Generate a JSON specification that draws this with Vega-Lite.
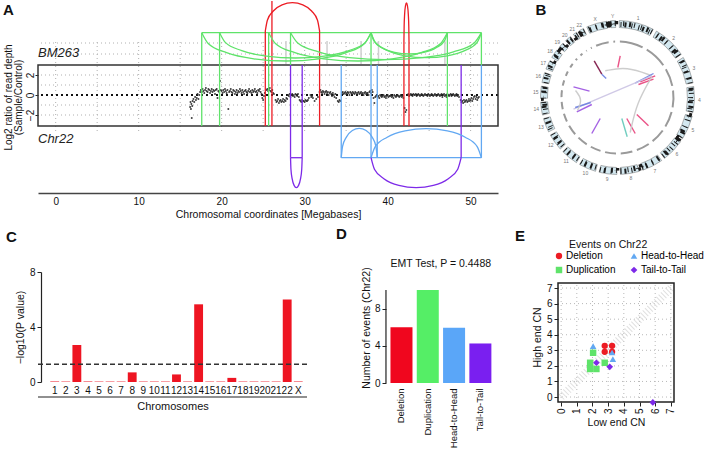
{
"$schema": "https://vega.github.io/schema/vega-lite/v6.json",
"padding": {"left": 3, "right": 0, "top": 0, "bottom": 0},
"config": {
  "font": "Liberation Sans",
  "view": {"stroke": null},
  "axis": {"grid": false, "labelColor": "#111", "titleColor": "#111", "titleFontWeight": "normal", "domainColor": "#222", "tickColor": "#222", "labelFontSize": 10, "titleFontSize": 10.5},
  "title": {"fontSize": 15, "fontWeight": "bold", "anchor": "start", "frame": "group", "color": "#111"}
},
"datasets": {
  "depth": [
{"x":16.2,"y":-1.2},{"x":16.25,"y":-0.7},{"x":16.3,"y":-1.4},{"x":16.35,"y":-0.9},{"x":16.4,"y":-2.3},{"x":16.45,"y":-1.1},{"x":16.5,"y":-0.6},{"x":16.6,"y":-0.4},{"x":16.7,"y":-0.7},{"x":16.8,"y":-0.2},{"x":16.9,"y":-0.5},{"x":17.0,"y":-0.3},{"x":17.1,"y":0.1},{"x":17.2,"y":-0.4},{"x":17.3,"y":0.0},{"x":17.4,"y":0.3},
{"x":17.5,"y":0.5},{"x":17.6,"y":0.3},{"x":17.7,"y":0.6},{"x":17.8,"y":0.4},{"x":17.9,"y":0.2},{"x":18.0,"y":0.5},{"x":18.1,"y":0.7},{"x":18.2,"y":0.4},{"x":18.3,"y":0.3},{"x":18.4,"y":0.6},{"x":18.5,"y":0.5},{"x":18.6,"y":0.2},{"x":18.7,"y":0.4},{"x":18.8,"y":0.6},{"x":18.9,"y":0.3},{"x":19.0,"y":0.5},{"x":19.1,"y":0.4},{"x":19.2,"y":0.1},{"x":19.3,"y":0.5},{"x":19.4,"y":0.6},{"x":19.5,"y":-0.3},{"x":19.6,"y":0.4},{"x":19.7,"y":0.3},{"x":19.8,"y":1.4},{"x":19.9,"y":0.5},{"x":20.0,"y":0.4},{"x":20.1,"y":0.2},{"x":20.2,"y":0.5},{"x":20.3,"y":0.3},{"x":20.4,"y":0.6},{"x":20.5,"y":0.4},{"x":20.6,"y":0.2},{"x":20.7,"y":0.5},{"x":20.8,"y":-1.4},{"x":20.9,"y":0.3},{"x":21.0,"y":0.4},{"x":21.1,"y":0.6},{"x":21.2,"y":0.3},{"x":21.3,"y":0.2},{"x":21.4,"y":0.5},{"x":21.5,"y":0.4},{"x":21.6,"y":0.1},{"x":21.7,"y":0.3},{"x":21.8,"y":0.5},{"x":21.9,"y":0.2},{"x":22.0,"y":0.4},{"x":22.1,"y":0.3},{"x":22.2,"y":0.6},{"x":22.3,"y":0.4},{"x":22.4,"y":0.2},{"x":22.5,"y":0.5},{"x":22.6,"y":0.3},{"x":22.7,"y":0.1},{"x":22.8,"y":0.4},{"x":22.9,"y":0.5},{"x":23.0,"y":0.3},{"x":23.1,"y":0.2},{"x":23.2,"y":0.4},{"x":23.3,"y":0.6},{"x":23.4,"y":0.3},{"x":23.5,"y":0.4},{"x":23.6,"y":0.2},{"x":23.7,"y":0.5},{"x":23.8,"y":0.3},{"x":23.9,"y":0.4},{"x":24.0,"y":0.6},{"x":24.1,"y":0.3},{"x":24.2,"y":0.4},{"x":24.3,"y":0.2},{"x":24.4,"y":0.5},{"x":24.5,"y":0.4},{"x":24.6,"y":0.6},{"x":24.7,"y":0.3},{"x":24.8,"y":0.1},{"x":24.9,"y":-0.3},{"x":25.0,"y":-0.5},{"x":25.1,"y":-0.1},{"x":25.2,"y":0.2},
{"x":25.4,"y":0.5},{"x":25.5,"y":0.6},{"x":25.6,"y":0.4},{"x":25.7,"y":0.5},{"x":25.8,"y":0.7},{"x":25.9,"y":0.4},{"x":26.0,"y":0.3},{"x":26.1,"y":0.5},{"x":26.2,"y":0.2},{"x":26.3,"y":0.1},
{"x":26.5,"y":-0.5},{"x":26.6,"y":-0.7},{"x":26.7,"y":-0.6},{"x":26.8,"y":-0.4},{"x":26.9,"y":-0.8},{"x":27.0,"y":-0.6},{"x":27.1,"y":-0.5},{"x":27.2,"y":-0.7},{"x":27.3,"y":-0.6},{"x":27.4,"y":-0.4},{"x":27.5,"y":-0.7},{"x":27.6,"y":-0.5},{"x":27.7,"y":-0.6},{"x":27.8,"y":-0.3},{"x":27.9,"y":-0.4},
{"x":28.0,"y":0.0},{"x":28.1,"y":-0.1},{"x":28.2,"y":0.1},{"x":28.3,"y":-0.2},{"x":28.4,"y":0.0},{"x":28.5,"y":0.1},{"x":28.6,"y":-0.1},{"x":28.7,"y":0.0},{"x":28.8,"y":-0.2},{"x":28.9,"y":0.1},{"x":29.0,"y":0.0},{"x":29.1,"y":-0.1},{"x":29.2,"y":0.1},{"x":29.3,"y":-0.2},
{"x":29.4,"y":-0.5},{"x":29.5,"y":-0.6},{"x":29.6,"y":-0.7},{"x":29.7,"y":-0.5},{"x":29.8,"y":-0.6},{"x":29.9,"y":-0.6},{"x":30.0,"y":-0.7},{"x":30.1,"y":-0.5},{"x":30.2,"y":-0.6},{"x":30.3,"y":-0.6},{"x":30.4,"y":-0.5},{"x":30.5,"y":-0.3},{"x":30.7,"y":0.0},{"x":30.8,"y":-0.2},{"x":30.9,"y":-0.1},{"x":31.0,"y":-0.3},{"x":31.2,"y":-0.6},{"x":31.4,"y":-0.4},{"x":31.6,"y":-0.2},
{"x":31.8,"y":0.3},{"x":31.9,"y":0.5},{"x":32.0,"y":0.3},{"x":32.1,"y":0.2},{"x":32.2,"y":0.4},{"x":32.3,"y":0.3},{"x":32.4,"y":0.1},{"x":32.5,"y":0.3},{"x":32.6,"y":0.4},{"x":32.7,"y":0.2},{"x":32.8,"y":0.3},{"x":32.9,"y":0.0},{"x":33.0,"y":0.2},{"x":33.1,"y":0.3},{"x":33.2,"y":0.1},{"x":33.3,"y":-0.1},{"x":33.4,"y":0.2},{"x":33.5,"y":0.0},{"x":33.6,"y":-0.2},{"x":33.7,"y":0.1},{"x":33.8,"y":-0.3},
{"x":34.0,"y":-0.6},{"x":34.1,"y":-0.7},{"x":34.2,"y":-0.5},{"x":34.3,"y":-0.6},
{"x":34.5,"y":0.2},{"x":34.6,"y":0.3},{"x":34.7,"y":0.1},{"x":34.8,"y":0.2},{"x":34.9,"y":0.3},{"x":35.0,"y":0.1},{"x":35.1,"y":0.2},{"x":35.2,"y":0.3},{"x":35.3,"y":0.2},{"x":35.4,"y":0.0},{"x":35.5,"y":0.3},{"x":35.6,"y":0.2},{"x":35.7,"y":0.1},{"x":35.8,"y":0.3},{"x":35.9,"y":0.2},{"x":36.0,"y":0.1},{"x":36.1,"y":0.3},{"x":36.2,"y":0.2},{"x":36.3,"y":0.0},{"x":36.4,"y":0.2},{"x":36.5,"y":0.3},{"x":36.6,"y":0.1},{"x":36.7,"y":0.2},{"x":36.8,"y":0.3},{"x":36.9,"y":0.1},{"x":37.0,"y":0.2},{"x":37.1,"y":0.0},{"x":37.2,"y":0.2},{"x":37.3,"y":0.3},{"x":37.4,"y":0.1},{"x":37.5,"y":0.2},{"x":37.6,"y":0.2},{"x":37.7,"y":0.0},{"x":37.8,"y":0.3},{"x":37.9,"y":0.4},{"x":38.0,"y":0.2},{"x":38.1,"y":0.5},{"x":38.2,"y":0.3},{"x":38.3,"y":-0.3},{"x":38.4,"y":-0.8},
{"x":38.5,"y":-0.2},{"x":38.6,"y":-0.1},{"x":38.7,"y":0.0},{"x":38.8,"y":-0.2},{"x":38.9,"y":-0.1},{"x":39.0,"y":-0.3},{"x":39.1,"y":0.0},{"x":39.2,"y":-0.1},{"x":39.3,"y":-0.2},{"x":39.4,"y":-0.1},{"x":39.5,"y":0.0},{"x":39.6,"y":-0.2},{"x":39.7,"y":-0.1},{"x":39.8,"y":-0.3},{"x":39.9,"y":-0.1},{"x":40.0,"y":0.0},{"x":40.1,"y":-0.2},{"x":40.2,"y":-0.1},{"x":40.3,"y":-0.1},{"x":40.4,"y":0.0},{"x":40.5,"y":-0.2},{"x":40.6,"y":-0.1},{"x":40.7,"y":-0.3},{"x":40.8,"y":0.0},{"x":40.9,"y":-0.1},{"x":41.0,"y":-0.2},{"x":41.1,"y":-0.1},{"x":41.2,"y":0.0},{"x":41.3,"y":-0.1},{"x":41.4,"y":-0.2},{"x":41.5,"y":-0.1},{"x":41.6,"y":0.0},{"x":41.7,"y":-0.2},{"x":41.8,"y":-0.1},{"x":41.9,"y":-0.3},
{"x":42.05,"y":-1.3},{"x":42.15,"y":-1.7},{"x":42.25,"y":-1.5},
{"x":42.4,"y":0.0},{"x":42.5,"y":0.1},{"x":42.6,"y":-0.1},{"x":42.7,"y":0.0},{"x":42.8,"y":0.1},{"x":42.9,"y":0.0},{"x":43.0,"y":-0.1},{"x":43.1,"y":0.1},{"x":43.2,"y":0.0},{"x":43.3,"y":0.0},{"x":43.4,"y":0.1},{"x":43.5,"y":-0.1},{"x":43.6,"y":0.0},{"x":43.7,"y":0.1},{"x":43.8,"y":0.0},{"x":43.9,"y":-0.1},{"x":44.0,"y":0.0},{"x":44.1,"y":0.1},{"x":44.2,"y":0.0},{"x":44.3,"y":-0.1},{"x":44.4,"y":0.0},{"x":44.5,"y":0.1},{"x":44.6,"y":0.0},{"x":44.7,"y":0.0},{"x":44.8,"y":-0.1},{"x":44.9,"y":0.1},{"x":45.0,"y":0.0},{"x":45.1,"y":-0.1},{"x":45.2,"y":0.0},{"x":45.3,"y":0.1},{"x":45.4,"y":0.0},{"x":45.5,"y":-0.1},{"x":45.6,"y":0.0},{"x":45.7,"y":0.1},{"x":45.8,"y":0.0},{"x":45.9,"y":-0.1},{"x":46.0,"y":0.0},{"x":46.1,"y":0.1},{"x":46.2,"y":0.0},{"x":46.3,"y":-0.1},{"x":46.4,"y":0.0},{"x":46.5,"y":0.1},{"x":46.6,"y":-0.2},{"x":46.7,"y":0.0},{"x":46.8,"y":0.1},{"x":46.9,"y":-0.1},{"x":47.0,"y":0.0},{"x":47.1,"y":-0.2},{"x":47.2,"y":0.1},{"x":47.3,"y":0.0},{"x":47.4,"y":-0.1},{"x":47.5,"y":0.0},{"x":47.6,"y":0.1},{"x":47.7,"y":-0.1},{"x":47.8,"y":0.0},{"x":47.9,"y":0.1},{"x":48.0,"y":0.0},{"x":48.1,"y":-0.1},{"x":48.2,"y":0.0},{"x":48.3,"y":0.1},{"x":48.4,"y":-0.1},{"x":48.5,"y":0.0},{"x":48.6,"y":-0.2},
{"x":48.8,"y":-0.5},{"x":48.9,"y":-0.7},{"x":49.0,"y":-0.6},{"x":49.1,"y":-0.8},{"x":49.2,"y":-0.5},{"x":49.3,"y":-0.7},{"x":49.4,"y":-0.6},{"x":49.5,"y":-0.5},{"x":49.6,"y":-0.7},{"x":49.7,"y":-0.6},{"x":49.8,"y":-0.4},{"x":49.9,"y":-0.6},{"x":50.0,"y":-0.5},{"x":50.1,"y":-0.3},{"x":50.2,"y":-0.6},{"x":50.3,"y":-0.4},{"x":50.4,"y":-0.2},{"x":50.5,"y":-0.1},{"x":50.6,"y":-0.4},{"x":50.7,"y":-0.2},{"x":50.8,"y":-0.5},{"x":50.9,"y":-0.3},{"x":51.0,"y":-0.2}
  ],
  "segs": [
{"c":"dup","x":17.6,"y":-3.1,"x2":17.6,"y2":6.23},
{"c":"dup","x":19.75,"y":-3.1,"x2":19.75,"y2":6.23},
{"c":"dup","x":25.66,"y":-3.1,"x2":25.66,"y2":6.23},
{"c":"dup","x":28.3,"y":3.0,"x2":28.3,"y2":6.23},
{"c":"dup","x":38.0,"y":3.0,"x2":38.0,"y2":6.23},
{"c":"dup","x":47.2,"y":-3.1,"x2":47.2,"y2":6.23},
{"c":"dup","x":51.3,"y":3.0,"x2":51.3,"y2":6.23},
{"c":"dup","x":17.6,"y":6.23,"x2":51.3,"y2":6.23},
{"c":"del","x":25.26,"y":-3.1,"x2":25.26,"y2":6.4},
{"c":"del","x":31.8,"y":-3.1,"x2":31.8,"y2":6.4},
{"c":"del","x":26.06,"y":-3.1,"x2":26.06,"y2":9.4},
{"c":"del","x":41.965,"y":-3.1,"x2":41.965,"y2":5.4},
{"c":"del","x":42.575,"y":-3.1,"x2":42.575,"y2":5.4},
{"c":"h2h","x":34.41,"y":3.0,"x2":34.41,"y2":-6.27},
{"c":"h2h","x":38.0,"y":3.0,"x2":38.0,"y2":-6.27},
{"c":"h2h","x":38.75,"y":3.0,"x2":38.75,"y2":-6.27},
{"c":"h2h","x":51.3,"y":3.0,"x2":51.3,"y2":-6.27},
{"c":"h2h","x":34.41,"y":-6.27,"x2":51.3,"y2":-6.27},
{"c":"t2t","x":28.3,"y":3.0,"x2":28.3,"y2":-6.27},
{"c":"t2t","x":29.705,"y":3.0,"x2":29.705,"y2":-6.27},
{"c":"t2t","x":28.3,"y":-6.27,"x2":29.705,"y2":-6.27},
{"c":"t2t","x":48.86,"y":3.0,"x2":48.86,"y2":-6.27}
  ],
  "arcs": [
{"id":"g1","c":"dup","o":1,"x":17.6,"y":6.23},{"id":"g1","c":"dup","o":2,"x":18.38,"y":5.15},{"id":"g1","c":"dup","o":3,"x":20.59,"y":4.23},{"id":"g1","c":"dup","o":4,"x":23.89,"y":3.62},{"id":"g1","c":"dup","o":5,"x":27.8,"y":3.4},{"id":"g1","c":"dup","o":6,"x":31.71,"y":3.62},{"id":"g1","c":"dup","o":7,"x":35.01,"y":4.23},{"id":"g1","c":"dup","o":8,"x":37.22,"y":5.15},{"id":"g1","c":"dup","o":9,"x":38.0,"y":6.23},
{"id":"g2","c":"dup","o":1,"x":19.75,"y":6.23},{"id":"g2","c":"dup","o":2,"x":20.44,"y":5.26},{"id":"g2","c":"dup","o":3,"x":22.42,"y":4.44},{"id":"g2","c":"dup","o":4,"x":25.38,"y":3.89},{"id":"g2","c":"dup","o":5,"x":28.88,"y":3.7},{"id":"g2","c":"dup","o":6,"x":32.37,"y":3.89},{"id":"g2","c":"dup","o":7,"x":35.33,"y":4.44},{"id":"g2","c":"dup","o":8,"x":37.31,"y":5.26},{"id":"g2","c":"dup","o":9,"x":38.0,"y":6.23},
{"id":"g3","c":"dup","o":1,"x":25.66,"y":6.23},{"id":"g3","c":"dup","o":2,"x":26.48,"y":5.15},{"id":"g3","c":"dup","o":3,"x":28.82,"y":4.23},{"id":"g3","c":"dup","o":4,"x":32.31,"y":3.62},{"id":"g3","c":"dup","o":5,"x":36.43,"y":3.4},{"id":"g3","c":"dup","o":6,"x":40.55,"y":3.62},{"id":"g3","c":"dup","o":7,"x":44.04,"y":4.23},{"id":"g3","c":"dup","o":8,"x":46.38,"y":5.15},{"id":"g3","c":"dup","o":9,"x":47.2,"y":6.23},
{"id":"g4","c":"dup","o":1,"x":28.3,"y":6.23},{"id":"g4","c":"dup","o":2,"x":29.17,"y":5.2},{"id":"g4","c":"dup","o":3,"x":31.67,"y":4.32},{"id":"g4","c":"dup","o":4,"x":35.4,"y":3.74},{"id":"g4","c":"dup","o":5,"x":39.8,"y":3.53},{"id":"g4","c":"dup","o":6,"x":44.2,"y":3.74},{"id":"g4","c":"dup","o":7,"x":47.93,"y":4.32},{"id":"g4","c":"dup","o":8,"x":50.43,"y":5.2},{"id":"g4","c":"dup","o":9,"x":51.3,"y":6.23},
{"id":"g5","c":"dup","o":1,"x":38.0,"y":6.23},{"id":"g5","c":"dup","o":2,"x":38.35,"y":5.41},{"id":"g5","c":"dup","o":3,"x":39.35,"y":4.72},{"id":"g5","c":"dup","o":4,"x":40.84,"y":4.26},{"id":"g5","c":"dup","o":5,"x":42.6,"y":4.1},{"id":"g5","c":"dup","o":6,"x":44.36,"y":4.26},{"id":"g5","c":"dup","o":7,"x":45.85,"y":4.72},{"id":"g5","c":"dup","o":8,"x":46.85,"y":5.41},{"id":"g5","c":"dup","o":9,"x":47.2,"y":6.23},
{"id":"g6","c":"dup","o":1,"x":38.0,"y":6.23},{"id":"g6","c":"dup","o":2,"x":38.51,"y":5.27},{"id":"g6","c":"dup","o":3,"x":39.95,"y":4.46},{"id":"g6","c":"dup","o":4,"x":42.1,"y":3.92},{"id":"g6","c":"dup","o":5,"x":44.65,"y":3.73},{"id":"g6","c":"dup","o":6,"x":47.2,"y":3.92},{"id":"g6","c":"dup","o":7,"x":49.35,"y":4.46},{"id":"g6","c":"dup","o":8,"x":50.79,"y":5.27},{"id":"g6","c":"dup","o":9,"x":51.3,"y":6.23},
{"id":"r1","c":"del","o":1,"x":25.26,"y":6.4},{"id":"r1","c":"del","o":2,"x":25.51,"y":7.48},{"id":"r1","c":"del","o":3,"x":26.22,"y":8.4},{"id":"r1","c":"del","o":4,"x":27.28,"y":9.01},{"id":"r1","c":"del","o":5,"x":28.53,"y":9.23},{"id":"r1","c":"del","o":6,"x":29.78,"y":9.01},{"id":"r1","c":"del","o":7,"x":30.84,"y":8.4},{"id":"r1","c":"del","o":8,"x":31.55,"y":7.48},{"id":"r1","c":"del","o":9,"x":31.8,"y":6.4},
{"id":"r2","c":"del","o":1,"x":41.965,"y":5.4},{"id":"r2","c":"del","o":2,"x":41.99,"y":6.86},{"id":"r2","c":"del","o":3,"x":42.05,"y":8.09},{"id":"r2","c":"del","o":4,"x":42.15,"y":8.91},{"id":"r2","c":"del","o":5,"x":42.27,"y":9.2},{"id":"r2","c":"del","o":6,"x":42.39,"y":8.91},{"id":"r2","c":"del","o":7,"x":42.49,"y":8.09},{"id":"r2","c":"del","o":8,"x":42.55,"y":6.86},{"id":"r2","c":"del","o":9,"x":42.575,"y":5.4},
{"id":"b1","c":"h2h","o":1,"x":34.41,"y":-6.27},{"id":"b1","c":"h2h","o":2,"x":34.57,"y":-5.14},{"id":"b1","c":"h2h","o":3,"x":35.05,"y":-4.19},{"id":"b1","c":"h2h","o":4,"x":35.75,"y":-3.55},{"id":"b1","c":"h2h","o":5,"x":36.58,"y":-3.33},{"id":"b1","c":"h2h","o":6,"x":37.41,"y":-3.55},{"id":"b1","c":"h2h","o":7,"x":38.11,"y":-4.19},{"id":"b1","c":"h2h","o":8,"x":38.59,"y":-5.14},{"id":"b1","c":"h2h","o":9,"x":38.75,"y":-6.27},
{"id":"b2","c":"h2h","o":1,"x":38.0,"y":-6.27},{"id":"b2","c":"h2h","o":2,"x":38.51,"y":-5.16},{"id":"b2","c":"h2h","o":3,"x":39.95,"y":-4.22},{"id":"b2","c":"h2h","o":4,"x":42.1,"y":-3.59},{"id":"b2","c":"h2h","o":5,"x":44.65,"y":-3.37},{"id":"b2","c":"h2h","o":6,"x":47.2,"y":-3.59},{"id":"b2","c":"h2h","o":7,"x":49.35,"y":-4.22},{"id":"b2","c":"h2h","o":8,"x":50.79,"y":-5.16},{"id":"b2","c":"h2h","o":9,"x":51.3,"y":-6.27},
{"id":"p1","c":"t2t","o":1,"x":28.3,"y":-6.27},{"id":"p1","c":"t2t","o":2,"x":28.35,"y":-7.42},{"id":"p1","c":"t2t","o":3,"x":28.5,"y":-8.39},{"id":"p1","c":"t2t","o":4,"x":28.73,"y":-9.04},{"id":"p1","c":"t2t","o":5,"x":29.0,"y":-9.27},{"id":"p1","c":"t2t","o":6,"x":29.27,"y":-9.04},{"id":"p1","c":"t2t","o":7,"x":29.5,"y":-8.39},{"id":"p1","c":"t2t","o":8,"x":29.65,"y":-7.42},{"id":"p1","c":"t2t","o":9,"x":29.705,"y":-6.27},
{"id":"p2","c":"t2t","o":1,"x":38.0,"y":-6.27},{"id":"p2","c":"t2t","o":2,"x":38.41,"y":-7.42},{"id":"p2","c":"t2t","o":3,"x":39.59,"y":-8.39},{"id":"p2","c":"t2t","o":4,"x":41.35,"y":-9.04},{"id":"p2","c":"t2t","o":5,"x":43.43,"y":-9.27},{"id":"p2","c":"t2t","o":6,"x":45.51,"y":-9.04},{"id":"p2","c":"t2t","o":7,"x":47.27,"y":-8.39},{"id":"p2","c":"t2t","o":8,"x":48.45,"y":-7.42},{"id":"p2","c":"t2t","o":9,"x":48.86,"y":-6.27}
  ],
  "chroms": [
{"i":1,"chr":"1","len":249},{"i":2,"chr":"2","len":242},{"i":3,"chr":"3","len":198},{"i":4,"chr":"4","len":190},{"i":5,"chr":"5","len":181},{"i":6,"chr":"6","len":171},{"i":7,"chr":"7","len":159},{"i":8,"chr":"8","len":145},{"i":9,"chr":"9","len":138},{"i":10,"chr":"10","len":134},{"i":11,"chr":"11","len":135},{"i":12,"chr":"12","len":133},{"i":13,"chr":"13","len":114},{"i":14,"chr":"14","len":107},{"i":15,"chr":"15","len":102},{"i":16,"chr":"16","len":90},{"i":17,"chr":"17","len":83},{"i":18,"chr":"18","len":80},{"i":19,"chr":"19","len":59},{"i":20,"chr":"20","len":64},{"i":21,"chr":"21","len":47},{"i":22,"chr":"22","len":51},{"i":23,"chr":"X","len":156},{"i":24,"chr":"Y","len":57}
  ],
  "chords": [
{"id":"c1","t":"dark","o":1,"x":-23.3,"y":36.7},{"id":"c1","t":"dark","o":2,"x":-15.7,"y":23.3},
{"id":"c2","t":"h2h","o":1,"x":-15.7,"y":23.3},{"id":"c2","t":"h2h","o":2,"x":-11.3,"y":19},
{"id":"c3","t":"del","o":1,"x":2.7,"y":41.7},{"id":"c3","t":"del","o":2,"x":0.3,"y":30},
{"id":"c4","t":"link","o":1,"x":-12.3,"y":26.7},{"id":"c4","t":"link","o":2,"x":9.3,"y":31},{"id":"c4","t":"link","o":3,"x":34.3,"y":21.7},
{"id":"c5","t":"del","o":1,"x":22.7,"y":15.7},{"id":"c5","t":"del","o":2,"x":37.7,"y":21.7},
{"id":"c6","t":"del","o":1,"x":21,"y":13},{"id":"c6","t":"del","o":2,"x":36,"y":18.3},
{"id":"c7","t":"h2h","o":1,"x":17.7,"y":14.3},{"id":"c7","t":"h2h","o":2,"x":36,"y":24},
{"id":"c8","t":"lav","o":1,"x":-44,"y":-11.7},{"id":"c8","t":"lav","o":2,"x":34.3,"y":21.7},
{"id":"c9","t":"t2t","o":1,"x":-44,"y":10.7},{"id":"c9","t":"t2t","o":2,"x":-28,"y":6.3},
{"id":"c10","t":"t2t","o":1,"x":-40.7,"y":-14.3},{"id":"c10","t":"t2t","o":2,"x":-25.7,"y":-7},
{"id":"c11","t":"h2h","o":1,"x":-42.3,"y":-10},{"id":"c11","t":"h2h","o":2,"x":-26.7,"y":-5},
{"id":"c12","t":"link","o":1,"x":-42,"y":7},{"id":"c12","t":"link","o":2,"x":-35,"y":-2},{"id":"c12","t":"link","o":3,"x":-40,"y":-13},
{"id":"c13","t":"t2t","o":1,"x":-25.7,"y":-36},{"id":"c13","t":"t2t","o":2,"x":-17.3,"y":-21},
{"id":"c14","t":"del","o":1,"x":9.3,"y":-21},{"id":"c14","t":"del","o":2,"x":17.7,"y":-36},
{"id":"c15","t":"del","o":1,"x":19.3,"y":-17},{"id":"c15","t":"del","o":2,"x":31,"y":-28.3},
{"id":"c16","t":"teal","o":1,"x":4.3,"y":-21},{"id":"c16","t":"teal","o":2,"x":9.7,"y":-39.3},
{"id":"c17","t":"link","o":1,"x":34.3,"y":20.7},{"id":"c17","t":"link","o":2,"x":19.3,"y":-5},{"id":"c17","t":"link","o":3,"x":12.7,"y":-35}
  ],
  "pvals": [
{"chr":"1","p":0.03},{"chr":"2","p":0.03},{"chr":"3","p":2.7},{"chr":"4","p":0.03},{"chr":"5","p":0.03},{"chr":"6","p":0.03},{"chr":"7","p":0.03},{"chr":"8","p":0.7},{"chr":"9","p":0.03},{"chr":"10","p":0.03},{"chr":"11","p":0.03},{"chr":"12","p":0.55},{"chr":"13","p":0.03},{"chr":"14","p":5.65},{"chr":"15","p":0.03},{"chr":"16","p":0.03},{"chr":"17","p":0.3},{"chr":"18","p":0.03},{"chr":"19","p":0.03},{"chr":"20","p":0.03},{"chr":"21","p":0.03},{"chr":"22","p":6.0},{"chr":"X","p":0.03}
  ],
  "events": [
{"type":"Deletion","n":6.0},{"type":"Duplication","n":10.0},{"type":"Head-to-Head","n":5.95},{"type":"Tail-to-Tail","n":4.25}
  ],
  "cn": [
{"type":"Deletion","lo":2.78,"hi":3.29},{"type":"Deletion","lo":3.25,"hi":3.29},{"type":"Deletion","lo":2.78,"hi":2.9},{"type":"Deletion","lo":3.25,"hi":2.9},
{"type":"Duplication","lo":2.04,"hi":2.84},{"type":"Duplication","lo":1.85,"hi":2.2},{"type":"Duplication","lo":1.85,"hi":1.8},{"type":"Duplication","lo":2.25,"hi":1.8},{"type":"Duplication","lo":2.78,"hi":2.2},
{"type":"Head-to-Head","lo":2.04,"hi":3.27},{"type":"Head-to-Head","lo":3.25,"hi":2.86},{"type":"Head-to-Head","lo":3.3,"hi":2.44},
{"type":"Tail-to-Tail","lo":2.25,"hi":2.2},{"type":"Tail-to-Tail","lo":3.1,"hi":1.94},{"type":"Tail-to-Tail","lo":5.85,"hi":-0.35}
  ],
  "ints": [{"v":0},{"v":1},{"v":2},{"v":3},{"v":4},{"v":5},{"v":6},{"v":7}],
  "one": [{"k":1}]
},
"columns": 1,
"align": "none",
"spacing": 6,
"resolve": {"scale": {"color": "independent", "shape": "independent", "size": "independent"}, "legend": {"color": "independent", "shape": "independent", "size": "independent"}},
"concat": [
 {"hconcat": [
  {
   "width": 460, "height": 192,
   "title": {"text": "A", "offset": -18, "dx": -35},
   "layer": [
    {"data": {"values": [{"x":0},{"x":5},{"x":10},{"x":15},{"x":20},{"x":25},{"x":30},{"x":35},{"x":40},{"x":45},{"x":50}]},
     "mark": {"type": "rule", "color": "#b0b0b0", "strokeDash": [1, 3], "strokeWidth": 1},
     "encoding": {
       "x": {"field": "x", "type": "quantitative", "scale": {"domain": [-2.13, 53.3], "nice": false, "zero": false},
             "axis": {"values": [0, 10, 20, 30, 40, 50], "title": "Chromosomal coordinates [Megabases]", "tickSize": 0, "labelPadding": 3, "domainWidth": 1.5, "domainColor": "#444", "titlePadding": 3}},
       "y": {"datum": 5.3, "type": "quantitative", "scale": {"domain": [-9.8, 9.4], "nice": false, "zero": false},
             "axis": {"values": [-2, 0, 2], "title": ["Log2 ratio of read depth", "(Sample/Control)"], "labelAngle": 270, "labelAlign": "center", "labelBaseline": "bottom", "tickSize": 3, "domain": false, "labelPadding": 0, "titleFontSize": 10, "titleLineHeight": 10, "titleX": -24.5, "titleAngle": 270, "titleBaseline": "bottom", "titleAlign": "center"}},
       "y2": {"datum": -3.9}}},
    {"data": {"values": [{"y":-2},{"y":-1},{"y":1},{"y":2},{"y":4.1},{"y":5.2}]},
     "mark": {"type": "rule", "color": "#b0b0b0", "strokeDash": [1, 3], "strokeWidth": 1},
     "encoding": {"y": {"field": "y", "type": "quantitative", "scale": {"domain": [-9.8, 9.4], "nice": false, "zero": false},
             "axis": {"values": [-2, 0, 2], "title": ["Log2 ratio of read depth", "(Sample/Control)"], "labelAngle": 270, "labelAlign": "center", "labelBaseline": "bottom", "tickSize": 3, "domain": false, "labelPadding": 0, "titleFontSize": 10, "titleLineHeight": 10, "titleX": -24.5, "titleAngle": 270, "titleBaseline": "bottom", "titleAlign": "center"}}}},
    {"data": {"name": "one"},
     "mark": {"type": "rule", "color": "#111", "strokeDash": [2, 3], "strokeWidth": 1.8},
     "encoding": {"y": {"datum": 0, "type": "quantitative", "scale": {"domain": [-9.8, 9.4], "nice": false, "zero": false},
             "axis": {"values": [-2, 0, 2], "title": ["Log2 ratio of read depth", "(Sample/Control)"], "labelAngle": 270, "labelAlign": "center", "labelBaseline": "bottom", "tickSize": 3, "domain": false, "labelPadding": 0, "titleFontSize": 10, "titleLineHeight": 10, "titleX": -24.5, "titleAngle": 270, "titleBaseline": "bottom", "titleAlign": "center"}}}},
    {"data": {"values": [{"x":27.75},{"x":32.7},{"x":36.8},{"x":38.9},{"x":46.9}]},
     "mark": {"type": "rule", "color": "#cfcfcf", "strokeWidth": 1.5},
     "encoding": {
       "x": {"field": "x", "type": "quantitative", "scale": {"domain": [-2.13, 53.3], "nice": false, "zero": false},
             "axis": {"values": [0, 10, 20, 30, 40, 50], "title": "Chromosomal coordinates [Megabases]", "tickSize": 0, "labelPadding": 3, "domainWidth": 1.5, "domainColor": "#444", "titlePadding": 3}},
       "y": {"datum": 5.4, "type": "quantitative", "scale": {"domain": [-9.8, 9.4], "nice": false, "zero": false},
             "axis": {"values": [-2, 0, 2], "title": ["Log2 ratio of read depth", "(Sample/Control)"], "labelAngle": 270, "labelAlign": "center", "labelBaseline": "bottom", "tickSize": 3, "domain": false, "labelPadding": 0, "titleFontSize": 10, "titleLineHeight": 10, "titleX": -24.5, "titleAngle": 270, "titleBaseline": "bottom", "titleAlign": "center"}},
       "y2": {"datum": 3.1}}},
    {"data": {"name": "one"},
     "mark": {"type": "rect", "filled": false, "stroke": "#333", "strokeWidth": 1.5},
     "encoding": {
       "x": {"datum": -2.13, "type": "quantitative", "scale": {"domain": [-2.13, 53.3], "nice": false, "zero": false},
             "axis": {"values": [0, 10, 20, 30, 40, 50], "title": "Chromosomal coordinates [Megabases]", "tickSize": 0, "labelPadding": 3, "domainWidth": 1.5, "domainColor": "#444", "titlePadding": 3}},
       "x2": {"datum": 53.3},
       "y": {"datum": 3.0, "type": "quantitative", "scale": {"domain": [-9.8, 9.4], "nice": false, "zero": false},
             "axis": {"values": [-2, 0, 2], "title": ["Log2 ratio of read depth", "(Sample/Control)"], "labelAngle": 270, "labelAlign": "center", "labelBaseline": "bottom", "tickSize": 3, "domain": false, "labelPadding": 0, "titleFontSize": 10, "titleLineHeight": 10, "titleX": -24.5, "titleAngle": 270, "titleBaseline": "bottom", "titleAlign": "center"}},
       "y2": {"datum": -3.1}}},
    {"data": {"name": "depth"},
     "mark": {"type": "circle", "size": 4, "color": "#2a2a2a", "opacity": 0.9},
     "encoding": {
       "x": {"field": "x", "type": "quantitative", "scale": {"domain": [-2.13, 53.3], "nice": false, "zero": false},
             "axis": {"values": [0, 10, 20, 30, 40, 50], "title": "Chromosomal coordinates [Megabases]", "tickSize": 0, "labelPadding": 3, "domainWidth": 1.5, "domainColor": "#444", "titlePadding": 3}},
       "y": {"field": "y", "type": "quantitative", "scale": {"domain": [-9.8, 9.4], "nice": false, "zero": false},
             "axis": {"values": [-2, 0, 2], "title": ["Log2 ratio of read depth", "(Sample/Control)"], "labelAngle": 270, "labelAlign": "center", "labelBaseline": "bottom", "tickSize": 3, "domain": false, "labelPadding": 0, "titleFontSize": 10, "titleLineHeight": 10, "titleX": -24.5, "titleAngle": 270, "titleBaseline": "bottom", "titleAlign": "center"}}}},
    {"data": {"name": "segs"},
     "mark": {"type": "rule", "strokeWidth": 1.3},
     "encoding": {
       "x": {"field": "x", "type": "quantitative", "scale": {"domain": [-2.13, 53.3], "nice": false, "zero": false},
             "axis": {"values": [0, 10, 20, 30, 40, 50], "title": "Chromosomal coordinates [Megabases]", "tickSize": 0, "labelPadding": 3, "domainWidth": 1.5, "domainColor": "#444", "titlePadding": 3}},
       "x2": {"field": "x2"},
       "y": {"field": "y", "type": "quantitative", "scale": {"domain": [-9.8, 9.4], "nice": false, "zero": false},
             "axis": {"values": [-2, 0, 2], "title": ["Log2 ratio of read depth", "(Sample/Control)"], "labelAngle": 270, "labelAlign": "center", "labelBaseline": "bottom", "tickSize": 3, "domain": false, "labelPadding": 0, "titleFontSize": 10, "titleLineHeight": 10, "titleX": -24.5, "titleAngle": 270, "titleBaseline": "bottom", "titleAlign": "center"}},
       "y2": {"field": "y2"},
       "color": {"field": "c", "type": "nominal", "scale": {"domain": ["del", "dup", "h2h", "t2t"], "range": ["#ec1c24", "#5fe36a", "#62a8f2", "#7d2ae8"]}, "legend": null}}},
    {"data": {"name": "arcs"},
     "mark": {"type": "line", "strokeWidth": 1.3, "interpolate": "monotone"},
     "encoding": {
       "x": {"field": "x", "type": "quantitative", "scale": {"domain": [-2.13, 53.3], "nice": false, "zero": false},
             "axis": {"values": [0, 10, 20, 30, 40, 50], "title": "Chromosomal coordinates [Megabases]", "tickSize": 0, "labelPadding": 3, "domainWidth": 1.5, "domainColor": "#444", "titlePadding": 3}},
       "y": {"field": "y", "type": "quantitative", "scale": {"domain": [-9.8, 9.4], "nice": false, "zero": false},
             "axis": {"values": [-2, 0, 2], "title": ["Log2 ratio of read depth", "(Sample/Control)"], "labelAngle": 270, "labelAlign": "center", "labelBaseline": "bottom", "tickSize": 3, "domain": false, "labelPadding": 0, "titleFontSize": 10, "titleLineHeight": 10, "titleX": -24.5, "titleAngle": 270, "titleBaseline": "bottom", "titleAlign": "center"}},
       "detail": {"field": "id"},
       "order": {"field": "o"},
       "color": {"field": "c", "type": "nominal", "scale": {"domain": ["del", "dup", "h2h", "t2t"], "range": ["#ec1c24", "#5fe36a", "#62a8f2", "#7d2ae8"]}, "legend": null}}},
    {"data": {"values": [{"label": "BM263", "x": -2.13, "y": 4.23}, {"label": "Chr22", "x": -2.13, "y": -4.4}]},
     "mark": {"type": "text", "align": "left", "baseline": "middle", "fontSize": 13, "fontStyle": "italic", "color": "#222"},
     "encoding": {
       "x": {"field": "x", "type": "quantitative", "scale": {"domain": [-2.13, 53.3], "nice": false, "zero": false},
             "axis": {"values": [0, 10, 20, 30, 40, 50], "title": "Chromosomal coordinates [Megabases]", "tickSize": 0, "labelPadding": 3, "domainWidth": 1.5, "domainColor": "#444", "titlePadding": 3}},
       "y": {"field": "y", "type": "quantitative", "scale": {"domain": [-9.8, 9.4], "nice": false, "zero": false},
             "axis": {"values": [-2, 0, 2], "title": ["Log2 ratio of read depth", "(Sample/Control)"], "labelAngle": 270, "labelAlign": "center", "labelBaseline": "bottom", "tickSize": 3, "domain": false, "labelPadding": 0, "titleFontSize": 10, "titleLineHeight": 10, "titleX": -24.5, "titleAngle": 270, "titleBaseline": "bottom", "titleAlign": "center"}},
       "text": {"field": "label"}}}
   ]
  },
  {
   "width": 160, "height": 193,
   "title": {"text": "B", "offset": -17, "dx": -2},
   "layer": [
    {"data": {"name": "chroms"},
     "mark": {"type": "arc", "outerRadius": 77, "innerRadius": 70, "padAngle": 0.035, "fill": "#d3e8f0", "stroke": "#444", "strokeWidth": 0.4},
     "encoding": {"theta": {"field": "len", "type": "quantitative", "stack": true}, "order": {"field": "i"}}},
    {"data": {"name": "chroms"},
     "mark": {"type": "arc", "outerRadius": 74, "innerRadius": 73, "padAngle": 0.035, "filled": false, "stroke": "#1a1a1a", "strokeWidth": 5, "strokeDash": [1, 3, 2, 5, 1, 6]},
     "encoding": {"theta": {"field": "len", "type": "quantitative", "stack": true}, "order": {"field": "i"}}},
    {"data": {"name": "chroms"},
     "mark": {"type": "text", "radius": 82, "fontSize": 5, "color": "#777"},
     "encoding": {"theta": {"field": "len", "type": "quantitative", "stack": true}, "order": {"field": "i"}, "text": {"field": "chr"}}},
    {"data": {"name": "chroms"},
     "mark": {"type": "arc", "outerRadius": 57, "innerRadius": 55, "padAngle": 0.06, "fill": "#9a9a9a"},
     "encoding": {"theta": {"field": "len", "type": "quantitative", "stack": true}, "order": {"field": "i"}}},
    {"data": {"name": "chords"},
     "mark": {"type": "line", "strokeWidth": 1.4, "interpolate": "basis", "opacity": 0.9},
     "encoding": {
       "x": {"field": "x", "type": "quantitative", "scale": {"domain": [-80, 80], "nice": false, "zero": false}, "axis": null},
       "y": {"field": "y", "type": "quantitative", "scale": {"domain": [-96.5, 96.5], "nice": false, "zero": false}, "axis": null},
       "detail": {"field": "id"},
       "order": {"field": "o"},
       "color": {"field": "t", "type": "nominal", "scale": {"domain": ["dark", "del", "h2h", "t2t", "link", "lav", "teal"], "range": ["#7a1040", "#e8407a", "#6a80e0", "#9a50e0", "#c8c8c8", "#cbc3e3", "#60c8b8"]}, "legend": null}}}
   ]
  }
 ], "spacing": 39.5, "bounds": "flush",
 "resolve": {"scale": {"color": "independent"}, "legend": {"color": "independent"}}},
 {"hconcat": [
  {
   "width": 269, "height": 110,
   "title": {"text": "C", "offset": 22, "dx": -32},
   "layer": [
    {"data": {"name": "pvals"},
     "mark": {"type": "bar", "color": "#ee1522"},
     "encoding": {
       "x": {"field": "chr", "type": "ordinal", "sort": null, "scale": {"paddingInner": 0.2, "paddingOuter": 0.75, "align": 0.74},
             "axis": {"title": "Chromosomes", "labelAngle": 0, "ticks": false, "domain": false, "labelPadding": 3, "titlePadding": 5, "titleFontSize": 11}},
       "y": {"field": "p", "type": "quantitative", "scale": {"domain": [0, 8], "nice": false},
             "axis": {"values": [0, 2, 4, 6, 8], "title": "−log10(P value)", "offset": -3, "tickSize": 4, "titlePadding": 4, "domainWidth": 1.2}}}},
    {"data": {"name": "one"},
     "mark": {"type": "rule", "color": "#333", "strokeDash": [5, 3], "strokeWidth": 1.5},
     "encoding": {"y": {"datum": 1.3, "type": "quantitative"}}},
    {"data": {"name": "one"},
     "mark": {"type": "rule", "color": "#222", "strokeWidth": 1.2},
     "encoding": {"y": {"datum": -1.09, "type": "quantitative"}}}
   ]
  },
  {
   "width": 131, "height": 111,
   "title": {"text": "D", "offset": 17, "dx": -31},
   "layer": [
    {"data": {"name": "events"},
     "mark": {"type": "bar"},
     "encoding": {
       "x": {"field": "type", "type": "nominal", "sort": null, "scale": {"paddingInner": 0.163, "paddingOuter": 0.572, "align": 0.78},
             "axis": {"title": null, "labelAngle": 270, "ticks": false, "domain": false, "labelPadding": 5, "labelFontSize": 9.5}},
       "y": {"field": "n", "type": "quantitative", "scale": {"domain": [0, 11.935], "nice": false},
             "axis": {"values": [0, 2, 4, 6, 8, 10], "title": "Number of events (Chr22)", "offset": -19, "domain": false, "tickSize": 4, "titlePadding": 3}},
       "color": {"field": "type", "type": "nominal", "scale": {"domain": ["Deletion", "Duplication", "Head-to-Head", "Tail-to-Tail"], "range": ["#f0061e", "#55ee66", "#5aa6f8", "#7a1ff0"]}, "legend": null}}},
    {"data": {"name": "one"},
     "mark": {"type": "rule", "color": "#222", "strokeWidth": 1.2, "xOffset": -4.5},
     "encoding": {
       "x": {"datum": "Deletion", "type": "nominal", "bandPosition": 0},
       "y": {"datum": 0, "type": "quantitative"},
       "y2": {"datum": 10}}},
    {"data": {"name": "one"},
     "mark": {"type": "text", "fontSize": 10.5, "color": "#111", "dx": 13},
     "encoding": {
       "x": {"datum": "Duplication", "type": "nominal"},
       "y": {"datum": 12.8, "type": "quantitative"},
       "text": {"value": "EMT Test, P = 0.4488"}}}
   ]
  },
  {
   "width": 116, "height": 130,
   "title": {"text": "E", "offset": -4, "dx": -43},
   "layer": [
    {"data": {"name": "ints"},
     "mark": {"type": "rule", "color": "#b8b8b8", "strokeDash": [1, 3], "strokeWidth": 1},
     "encoding": {
       "x": {"field": "v", "type": "quantitative", "scale": {"domain": [-0.2, 7.2], "nice": false, "zero": false},
             "axis": {"values": [0, 1, 2, 3, 4, 5, 6, 7], "title": "Low end CN", "labelAngle": 270, "domain": false, "tickSize": 4, "labelPadding": 2, "titlePadding": 4}},
       "y": {"datum": -0.32, "type": "quantitative", "scale": {"domain": [-0.32, 8.03], "nice": false, "zero": false},
             "axis": {"values": [0, 1, 2, 3, 4, 5, 6, 7], "title": "High end CN", "domain": false, "tickSize": 4, "labelPadding": 2, "titlePadding": 4}},
       "y2": {"datum": 7.32}}},
    {"data": {"name": "ints"},
     "mark": {"type": "rule", "color": "#b8b8b8", "strokeDash": [1, 3], "strokeWidth": 1},
     "encoding": {
       "y": {"field": "v", "type": "quantitative", "scale": {"domain": [-0.32, 8.03], "nice": false, "zero": false},
             "axis": {"values": [0, 1, 2, 3, 4, 5, 6, 7], "title": "High end CN", "domain": false, "tickSize": 4, "labelPadding": 2, "titlePadding": 4}},
       "x": {"datum": -0.2, "type": "quantitative", "scale": {"domain": [-0.2, 7.2], "nice": false, "zero": false},
             "axis": {"values": [0, 1, 2, 3, 4, 5, 6, 7], "title": "Low end CN", "labelAngle": 270, "domain": false, "tickSize": 4, "labelPadding": 2, "titlePadding": 4}},
       "x2": {"datum": 7.2}}},
    {"data": {"values": [{"v": 0}, {"v": 7}]},
     "mark": {"type": "line", "color": "#e0e0e0", "strokeWidth": 8, "strokeDash": [1, 2.2]},
     "encoding": {
       "x": {"field": "v", "type": "quantitative", "scale": {"domain": [-0.2, 7.2], "nice": false, "zero": false},
             "axis": {"values": [0, 1, 2, 3, 4, 5, 6, 7], "title": "Low end CN", "labelAngle": 270, "domain": false, "tickSize": 4, "labelPadding": 2, "titlePadding": 4}},
       "y": {"field": "v", "type": "quantitative", "scale": {"domain": [-0.32, 8.03], "nice": false, "zero": false},
             "axis": {"values": [0, 1, 2, 3, 4, 5, 6, 7], "title": "High end CN", "domain": false, "tickSize": 4, "labelPadding": 2, "titlePadding": 4}}}},
    {"data": {"name": "one"},
     "mark": {"type": "rect", "filled": false, "stroke": "#222", "strokeWidth": 1.5},
     "encoding": {
       "x": {"datum": -0.2, "type": "quantitative", "scale": {"domain": [-0.2, 7.2], "nice": false, "zero": false},
             "axis": {"values": [0, 1, 2, 3, 4, 5, 6, 7], "title": "Low end CN", "labelAngle": 270, "domain": false, "tickSize": 4, "labelPadding": 2, "titlePadding": 4}},
       "x2": {"datum": 7.2},
       "y": {"datum": -0.32, "type": "quantitative", "scale": {"domain": [-0.32, 8.03], "nice": false, "zero": false},
             "axis": {"values": [0, 1, 2, 3, 4, 5, 6, 7], "title": "High end CN", "domain": false, "tickSize": 4, "labelPadding": 2, "titlePadding": 4}},
       "y2": {"datum": 7.32}}},
    {"data": {"name": "cn"},
     "mark": {"type": "point", "filled": true, "opacity": 1},
     "encoding": {
       "x": {"field": "lo", "type": "quantitative", "scale": {"domain": [-0.2, 7.2], "nice": false, "zero": false},
             "axis": {"values": [0, 1, 2, 3, 4, 5, 6, 7], "title": "Low end CN", "labelAngle": 270, "domain": false, "tickSize": 4, "labelPadding": 2, "titlePadding": 4}},
       "y": {"field": "hi", "type": "quantitative", "scale": {"domain": [-0.32, 8.03], "nice": false, "zero": false},
             "axis": {"values": [0, 1, 2, 3, 4, 5, 6, 7], "title": "High end CN", "domain": false, "tickSize": 4, "labelPadding": 2, "titlePadding": 4}},
       "color": {"field": "type", "type": "nominal", "scale": {"domain": ["Deletion", "Duplication", "Head-to-Head", "Tail-to-Tail"], "range": ["#ec1c24", "#5fe36a", "#62a8f2", "#7d2ae8"]},
                 "legend": {"title": null, "orient": "none", "legendX": -4, "legendY": -21, "columns": 2, "columnPadding": 13, "rowPadding": 4, "labelFontSize": 10, "labelOffset": 2}},
       "shape": {"field": "type", "type": "nominal", "scale": {"domain": ["Deletion", "Duplication", "Head-to-Head", "Tail-to-Tail"], "range": ["circle", "square", "triangle-up", "diamond"]},
                 "legend": {"title": null, "orient": "none", "legendX": -4, "legendY": -21, "columns": 2, "columnPadding": 13, "rowPadding": 4, "labelFontSize": 10, "labelOffset": 2}},
       "size": {"field": "type", "type": "nominal", "scale": {"domain": ["Deletion", "Duplication", "Head-to-Head", "Tail-to-Tail"], "range": [40, 45, 45, 25]},
                 "legend": {"title": null, "orient": "none", "legendX": -4, "legendY": -21, "columns": 2, "columnPadding": 13, "rowPadding": 4, "labelFontSize": 10, "labelOffset": 2}}}},
    {"data": {"name": "one"},
     "mark": {"type": "text", "fontSize": 10.5, "color": "#111"},
     "encoding": {
       "x": {"datum": 3.0, "type": "quantitative", "scale": {"domain": [-0.2, 7.2], "nice": false, "zero": false},
             "axis": {"values": [0, 1, 2, 3, 4, 5, 6, 7], "title": "Low end CN", "labelAngle": 270, "domain": false, "tickSize": 4, "labelPadding": 2, "titlePadding": 4}},
       "y": {"datum": 9.75, "type": "quantitative", "scale": {"domain": [-0.32, 8.03], "nice": false, "zero": false},
             "axis": {"values": [0, 1, 2, 3, 4, 5, 6, 7], "title": "High end CN", "domain": false, "tickSize": 4, "labelPadding": 2, "titlePadding": 4}},
       "text": {"value": "Events on Chr22"}}}
   ]
  }
 ], "spacing": 60, "bounds": "flush",
 "resolve": {"scale": {"color": "independent", "shape": "independent", "size": "independent"}, "legend": {"color": "independent", "shape": "independent", "size": "independent"}}}
]
}
